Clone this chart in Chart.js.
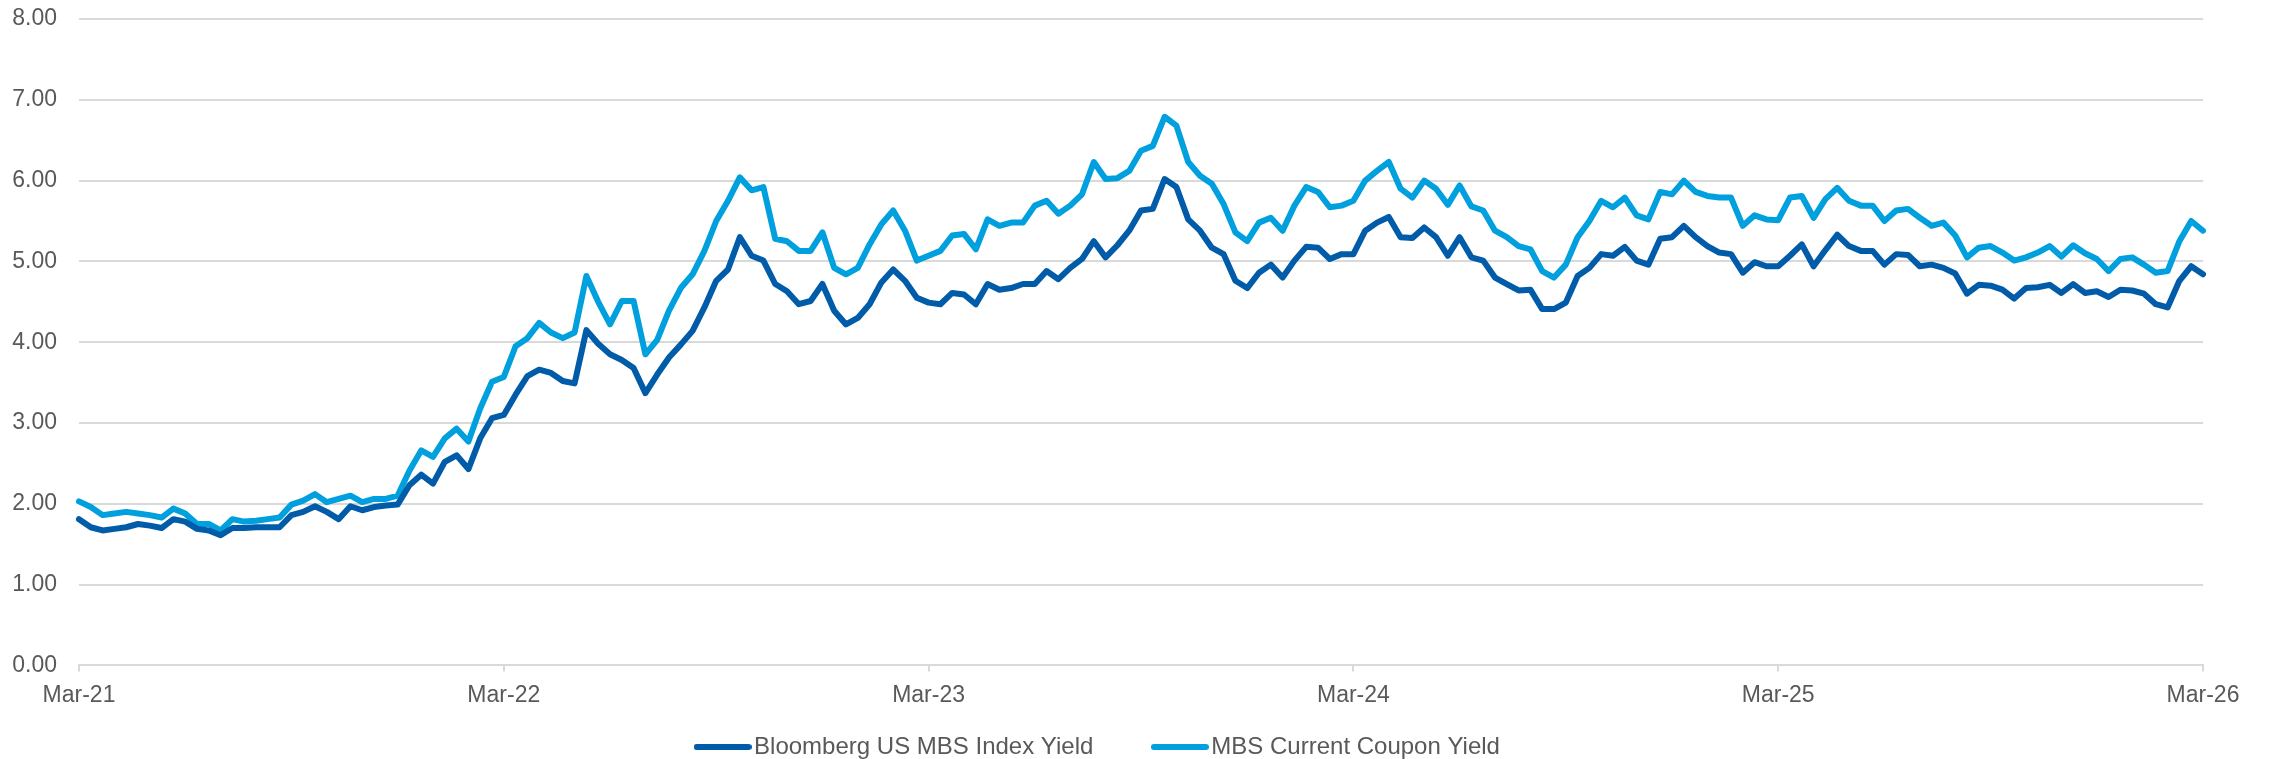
<!DOCTYPE html>
<html>
<head>
<meta charset="utf-8">
<title>MBS yields</title>
<script src="https://cdn.jsdelivr.net/npm/chart.js@4.4.1/dist/chart.umd.min.js"></script>
<style>
  html, body { margin: 0; padding: 0; background: #fff; }
  #wrap { width: 2269px; height: 759px; }
</style>
</head>
<body>
<div id="wrap"><canvas id="yieldChart"></canvas></div>
<script>
// roughly 10-day observations, Mar-21 .. Mar-26 (36 per year)
const tickLabels = ["Mar-21", "Mar-22", "Mar-23", "Mar-24", "Mar-25", "Mar-26"];
const pointsPerYear = 36;

const mbsIndexYield = [
  1.81, 1.71, 1.67, 1.69, 1.71, 1.75, 1.73, 1.70, 1.81, 1.78, 1.69, 1.67, 1.61, 1.70, 1.70, 1.71, 1.71, 1.71,
  1.86, 1.90, 1.97, 1.90, 1.81, 1.97, 1.92, 1.96, 1.98, 1.99, 2.23, 2.36, 2.25, 2.52, 2.60, 2.43, 2.81, 3.06,
  3.10, 3.35, 3.58, 3.66, 3.62, 3.52, 3.49, 4.15, 3.98, 3.85, 3.78, 3.68, 3.37, 3.60, 3.81, 3.97, 4.14, 4.43,
  4.76, 4.90, 5.30, 5.07, 5.01, 4.72, 4.63, 4.47, 4.51, 4.72, 4.39, 4.22, 4.30, 4.47, 4.74, 4.90, 4.76, 4.55,
  4.49, 4.47, 4.61, 4.59, 4.47, 4.72, 4.65, 4.67, 4.72, 4.72, 4.88, 4.78, 4.92, 5.03, 5.25, 5.05, 5.20, 5.38,
  5.63, 5.65, 6.02, 5.92, 5.52, 5.38, 5.17, 5.09, 4.76, 4.67, 4.86, 4.96, 4.80, 5.01, 5.18, 5.17, 5.03, 5.09,
  5.09, 5.38, 5.48, 5.55, 5.30, 5.29, 5.42, 5.30, 5.07, 5.30, 5.05, 5.01, 4.80, 4.72, 4.64, 4.65, 4.41, 4.41,
  4.49, 4.82, 4.92, 5.09, 5.07, 5.18, 5.01, 4.96, 5.28, 5.30, 5.44, 5.30, 5.19, 5.11, 5.09, 4.86, 4.99, 4.94,
  4.94, 5.07, 5.21, 4.94, 5.14, 5.33, 5.19, 5.13, 5.13, 4.96, 5.09, 5.08, 4.94, 4.96, 4.92, 4.85, 4.60, 4.71,
  4.70, 4.65, 4.54, 4.67, 4.68, 4.71, 4.61, 4.72, 4.61, 4.63, 4.56, 4.65, 4.64, 4.60, 4.47, 4.43, 4.76, 4.94,
  4.84
];

const currentCouponYield = [
  2.03, 1.96, 1.86, 1.88, 1.90, 1.88, 1.86, 1.83, 1.94, 1.88, 1.75, 1.75, 1.67, 1.81, 1.78, 1.79, 1.81, 1.83,
  1.99, 2.04, 2.12, 2.02, 2.06, 2.10, 2.02, 2.06, 2.06, 2.10, 2.41, 2.66, 2.58, 2.81, 2.93, 2.77, 3.18, 3.51,
  3.57, 3.95, 4.05, 4.24, 4.12, 4.05, 4.12, 4.82, 4.50, 4.22, 4.51, 4.51, 3.85, 4.03, 4.39, 4.67, 4.84, 5.13,
  5.50, 5.75, 6.04, 5.88, 5.92, 5.28, 5.25, 5.13, 5.13, 5.36, 4.92, 4.84, 4.92, 5.21, 5.46, 5.63, 5.38, 5.01,
  5.07, 5.13, 5.32, 5.34, 5.15, 5.52, 5.44, 5.48, 5.48, 5.69, 5.75, 5.59, 5.69, 5.83, 6.23, 6.02, 6.03, 6.12,
  6.37, 6.43, 6.79, 6.68, 6.23, 6.06, 5.96, 5.71, 5.36, 5.25, 5.48, 5.54, 5.38, 5.69, 5.92, 5.86, 5.67, 5.69,
  5.75, 6.00, 6.12, 6.23, 5.90, 5.79, 6.00, 5.90, 5.70, 5.94, 5.68, 5.63, 5.38, 5.30, 5.19, 5.15, 4.88, 4.80,
  4.96, 5.30, 5.50, 5.75, 5.67, 5.79, 5.57, 5.52, 5.86, 5.83, 6.00, 5.86, 5.81, 5.79, 5.79, 5.44, 5.57, 5.52,
  5.51, 5.79, 5.81, 5.54, 5.77, 5.91, 5.75, 5.69, 5.69, 5.50, 5.63, 5.65, 5.54, 5.44, 5.48, 5.32, 5.05, 5.17,
  5.19, 5.11, 5.01, 5.05, 5.11, 5.19, 5.06, 5.20, 5.10, 5.03, 4.88, 5.03, 5.05, 4.96, 4.86, 4.88, 5.25, 5.50,
  5.38
];

const observations = mbsIndexYield.map((_, i) => i);

const indexColor = "#005ca8";
const couponColor = "#00a0df";
const textColor = "#595959";
const gridColor = "#d9d9d9";
const fontFamily = "Arial, 'Liberation Sans', sans-serif";
const legendGap = 67;

// short thick rounded stroke used as the legend symbol
function legendMarker(color) {
  const c = document.createElement("canvas");
  c.width = 58;
  c.height = 8;
  const g = c.getContext("2d");
  g.strokeStyle = color;
  g.lineWidth = 6;
  g.lineCap = "round";
  g.beginPath();
  g.moveTo(3, 4);
  g.lineTo(55, 4);
  g.stroke();
  return c;
}

// legend keeps wide gaps between its items but sits close to the bottom edge
const compactLegend = {
  id: "compactLegend",
  beforeLayout(chart) {
    const legend = chart.legend;
    if (!legend || legend._compact) return;
    const fit = legend.fit.bind(legend);
    legend.fit = function () {
      fit();
      this.height = 40;
    };
    const draw = legend.draw.bind(legend);
    legend.draw = function () {
      const top = this.top;
      this.top = this.bottom - legendGap - 24;
      draw();
      this.top = top;
    };
    legend._compact = true;
  }
};

new Chart(document.getElementById("yieldChart"), {
  type: "line",
  data: {
    labels: observations,
    datasets: [{
      label: "Bloomberg US MBS Index Yield",
      data: mbsIndexYield,
      borderColor: indexColor,
      backgroundColor: indexColor,
      pointStyle: legendMarker(indexColor),
      borderWidth: 6,
      borderCapStyle: "round",
      borderJoinStyle: "round",
      pointRadius: 0,
      tension: 0
    }, {
      label: "MBS Current Coupon Yield",
      data: currentCouponYield,
      borderColor: couponColor,
      backgroundColor: couponColor,
      pointStyle: legendMarker(couponColor),
      borderWidth: 6,
      borderCapStyle: "round",
      borderJoinStyle: "round",
      pointRadius: 0,
      tension: 0
    }]
  },
  plugins: [compactLegend],
  options: {
    responsive: true,
    maintainAspectRatio: false,
    animation: false,
    layout: {
      padding: { top: 19, right: 66, left: 0, bottom: 0 }
    },
    plugins: {
      tooltip: { enabled: false },
      legend: {
        position: "bottom",
        labels: {
          color: textColor,
          font: { family: fontFamily, size: 24 },
          usePointStyle: true,
          pointStyleWidth: 39,
          boxHeight: 6,
          padding: legendGap
        }
      }
    },
    scales: {
      x: {
        type: "category",
        grid: {
          drawOnChartArea: false,
          drawTicks: true,
          tickLength: 6,
          color: gridColor,
          lineWidth: 2
        },
        border: { color: gridColor, width: 2 },
        ticks: {
          autoSkip: false,
          maxRotation: 0,
          padding: 10,
          color: textColor,
          font: { family: fontFamily, size: 23 },
          callback: (value, index) => index % pointsPerYear === 0 ? tickLabels[index / pointsPerYear] : null
        }
      },
      y: {
        min: 0,
        max: 8,
        afterFit: (scale) => { scale.width = 79; },
        grid: {
          color: gridColor,
          lineWidth: 2,
          drawTicks: true,
          tickLength: 22,
          tickColor: "rgba(0,0,0,0)"
        },
        border: { display: false },
        ticks: {
          stepSize: 1,
          padding: 0,
          color: textColor,
          font: { family: fontFamily, size: 23 },
          callback: (value) => value.toFixed(2)
        }
      }
    }
  }
});
</script>
</body>
</html>
